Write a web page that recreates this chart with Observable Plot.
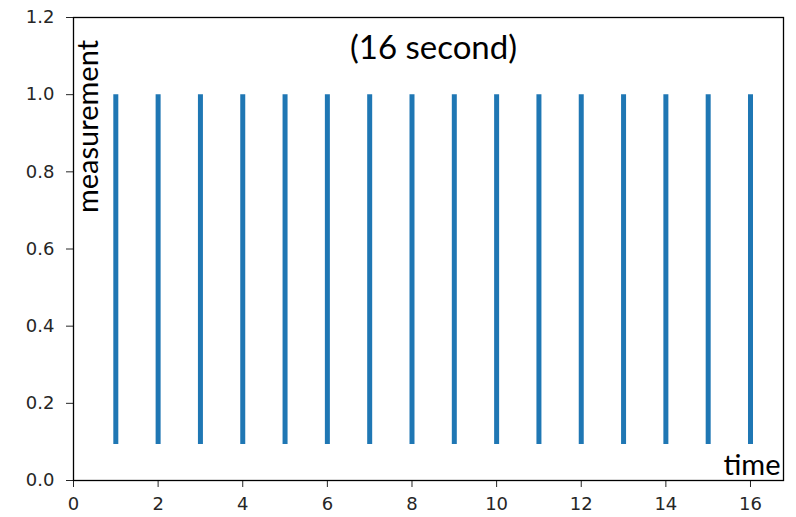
<!DOCTYPE html>
<html><head><meta charset="utf-8">
<script src="https://cdn.jsdelivr.net/npm/d3@7"></script>
<script src="https://cdn.jsdelivr.net/npm/@observablehq/plot@0.6"></script>
<style>
body{margin:0;background:#fff}
</style>
</head><body><div id="chart"></div>
<script>
const times = [1,2,3,4,5,6,7,8,9,10,11,12,13,14,15,16];
const lows = [0.093,0.093,0.093,0.093,0.093,0.093,0.093,0.093,0.093,0.093,0.093,0.093,0.093,0.093,0.093,0.093];
const highs = [1.0,1.0,1.0,1.0,1.0,1.0,1.0,1.0,1.0,1.0,1.0,1.0,1.0,1.0,1.0,1.0];
const xTicks = [0,2,4,6,8,10,12,14,16];
const yTicks = [0.0,0.2,0.4,0.6,0.8,1.0,1.2];
const title = "(16 second)";
const yLabel = "measurement";
const xLabel = "time";

const data = times.map((t,i)=>({t, lo: lows[i], hi: highs[i]}));

const chart = Plot.plot({
  width: 796, height: 517,
  marginLeft: 73, marginRight: 13, marginTop: 17, marginBottom: 37,
  style: {fontFamily: "DejaVu Sans", fontSize: "18px", color: "#262626", background: "#fff"},
  x: {domain: [0, 16.78], label: null},
  y: {domain: [0, 1.2], label: null},
  marks: [
    Plot.axisX({ticks: xTicks, tickSize: 7, tickPadding: 10, tickFormat: d=>String(d), fontSize: 18, label: null}),
    Plot.axisY({ticks: yTicks, tickSize: 7, tickPadding: 12, tickFormat: d=>d.toFixed(1), fontSize: 18, label: null}),
    Plot.ruleX(data, {x: "t", y1: "lo", y2: "hi", stroke: "#1f77b4", strokeWidth: 5}),
    Plot.frame({stroke: "#000", strokeWidth: 1.3}),
    Plot.text([title], {frameAnchor: "top", text: d=>d, lineAnchor: "middle", textAnchor: "middle", dx: 5, dy: 31, fontSize: 33, fontFamily: "Lato", fill: "#000"}),
    Plot.text([yLabel], {frameAnchor: "top-left", text: d=>d, rotate: -90, textAnchor: "middle", lineAnchor: "middle", dx: 15, dy: 109, fontSize: 29, fontFamily: "Lato", fill: "#000"}),
    Plot.text([xLabel], {frameAnchor: "bottom-right", text: d=>d, textAnchor: "end", lineAnchor: "middle", dx: -3, dy: -15, fontSize: 29, fontFamily: "Lato", fill: "#000"})
  ]
});
document.getElementById("chart").appendChild(chart);
</script></body></html>
